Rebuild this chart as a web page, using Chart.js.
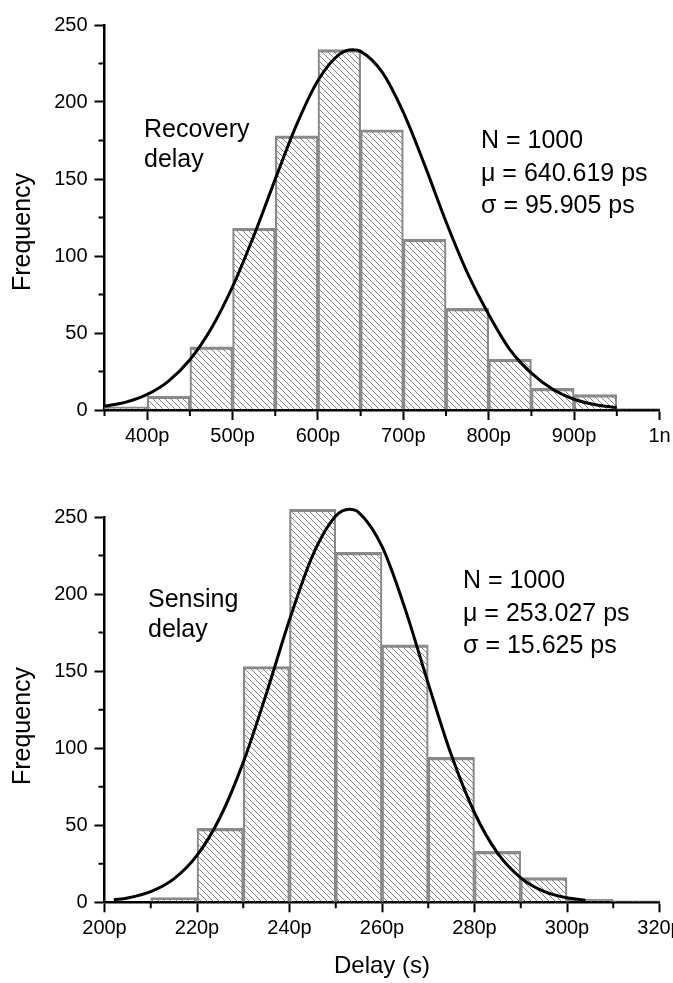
<!DOCTYPE html>
<html>
<head>
<meta charset="utf-8">
<script src="https://cdn.jsdelivr.net/npm/chart.js@4.4.0/dist/chart.umd.min.js"></script>
<style>
html,body{margin:0;padding:0;background:#fff;}
#wrap{position:relative;width:673px;height:983px;overflow:hidden;font-family:"Liberation Sans",Arial,Helvetica,sans-serif;color:#000;}
canvas{position:absolute;left:0;}
.t{position:absolute;font-size:25px;line-height:30px;white-space:nowrap;}
.yt{position:absolute;width:200px;height:30px;line-height:30px;text-align:center;font-size:25px;white-space:nowrap;transform:rotate(-90deg);}
</style>
</head>
<body>
<div id="wrap">
  <canvas id="c1" width="673" height="460" style="top:0px"></canvas>
  <canvas id="c2" width="673" height="523" style="top:460px"></canvas>
  <div class="yt" style="left:-79px;top:217px">Frequency</div>
  <div class="yt" style="left:-79px;top:711px">Frequency</div>
  <div class="t" style="left:144px;top:113px">Recovery<br>delay</div>
  <div class="t" style="left:481px;top:123px;line-height:32.5px">N = 1000<br>μ = 640.619 ps<br>σ = 95.905 ps</div>
  <div class="t" style="left:148px;top:583px">Sensing<br>delay</div>
  <div class="t" style="left:463px;top:563px;line-height:32.5px">N = 1000<br>μ = 253.027 ps<br>σ = 15.625 ps</div>
</div>
<script>
// ---------- Recovery delay (top) ----------
const recoveryBinCenters = [375, 425, 475, 525, 575, 625, 675, 725, 775, 825, 875, 925, 975]; // ps
const recoveryCounts     = [2, 9, 41, 118, 178, 234, 182, 111, 66, 33, 14, 10, 1];
const recoveryFitX = [350, 375, 400, 425, 450, 475, 500, 525, 550, 575, 600, 625, 640.6, 650, 675, 700, 725, 750, 775, 800, 825, 850, 875, 900, 925, 950];
const recoveryFitY = [2.4, 5.1, 10.1, 18.8, 32.6, 52.9, 80.1, 113.3, 149.9, 185.3, 214.0, 230.9, 234, 232.9, 219.5, 193.2, 159.0, 122.2, 89, 62, 39, 24, 13.5, 7, 3.4, 1.6];
const recoveryTickValues = [400, 500, 600, 700, 800, 900, 1000];
const recoveryTickLabels = ['400p', '500p', '600p', '700p', '800p', '900p', '1n'];

// ---------- Sensing delay (bottom) ----------
const sensingBinCenters = [205, 215, 225, 235, 245, 255, 265, 275, 285, 295, 305, 315]; // ps
const sensingCounts     = [0, 3, 48, 153, 255, 227, 167, 94, 33, 16, 2, 1];
const sensingFitX = [202, 205, 210, 215, 220, 225, 230, 235, 240, 245, 250, 253, 255, 260, 265, 270, 275, 280, 285, 290, 295, 300, 304];
const sensingFitY = [1.6, 2.8, 6.9, 15.2, 30.4, 55.2, 90.8, 135.4, 183.3, 225.0, 250.6, 255, 252.9, 230.9, 190.4, 141.9, 95.5, 58.1, 31.9, 15.9, 7.1, 2.9, 1.3];
const sensingTickValues = [200, 220, 240, 260, 280, 300, 320];
const sensingTickLabels = ['200p', '220p', '240p', '260p', '280p', '300p', '320p'];

// ---------- shared y ticks ----------
const freqTickValues = [0, 50, 100, 150, 200, 250];
const freqTickLabels = ['0', '50', '100', '150', '200', '250'];

Chart.defaults.font.family = '"Liberation Sans", Arial, Helvetica, sans-serif';
Chart.defaults.color = '#000';

function hatchPattern() {
  const s = 6;
  const c = document.createElement('canvas');
  c.width = s; c.height = s;
  const g = c.getContext('2d');
  g.strokeStyle = '#6e6e6e';
  g.lineWidth = 0.85;
  g.beginPath();
  for (let k = -1; k <= 1; k++) { g.moveTo(k * s, 0); g.lineTo(k * s + s, s); }
  g.stroke();
  return g.createPattern(c, 'repeat');
}

const minorTickPlugin = {
  id: 'minorTicks',
  afterDraw(chart, args, o) {
    const ctx = chart.ctx, x = chart.scales.x, y = chart.scales.y;
    ctx.save();
    ctx.strokeStyle = '#000';
    ctx.lineWidth = 2;
    ctx.beginPath();
    x.ticks.forEach(t => {
      if (!o.xMajor.includes(t.value)) {
        const p = x.getPixelForValue(t.value);
        ctx.moveTo(p, x.top); ctx.lineTo(p, x.top + o.len);
      }
    });
    y.ticks.forEach(t => {
      if (!o.yMajor.includes(t.value)) {
        const p = y.getPixelForValue(t.value);
        ctx.moveTo(y.right, p); ctx.lineTo(y.right - o.len, p);
      }
    });
    ctx.stroke();
    ctx.restore();
  }
};

function makeChart(id, o) {
  const bars = o.centers.map((x, i) => ({x: x, y: o.counts[i]}));
  const fit = o.fitX.map((x, i) => ({x: x, y: o.fitY[i]}));
  return new Chart(document.getElementById(id), {
    type: 'bar',
    data: {
      datasets: [
        {
          type: 'line', data: fit, borderColor: '#000', borderWidth: 3,
          pointRadius: 0, cubicInterpolationMode: 'monotone', fill: false, order: 1, clip: false
        },
        {
          type: 'bar', data: bars, backgroundColor: hatchPattern(), borderColor: '#8a8a8a',
          borderWidth: {top: 2.5, left: 1.5, right: 1.5, bottom: 0}, borderSkipped: false,
          barPercentage: 1, categoryPercentage: 1, order: 2, clip: false
        }
      ]
    },
    options: {
      responsive: false,
      devicePixelRatio: 1,
      animation: false,
      events: [],
      layout: {padding: {left: 0, top: o.padTop, right: 13.5, bottom: 0}},
      plugins: {
        legend: {display: false},
        tooltip: {enabled: false},
        minorTicks: {xMajor: o.tickValues, yMajor: freqTickValues, len: 6}
      },
      scales: {
        x: {
          type: 'linear', min: o.xMin, max: o.xMax, offset: false,
          grid: {display: true, drawOnChartArea: false, drawTicks: true, tickLength: 10, tickWidth: 2, offset: false,
                 tickColor: c => o.tickValues.includes(c.tick.value) ? '#000' : 'rgba(0,0,0,0)'},
          border: {display: true, color: '#000', width: 2.5},
          ticks: {
            stepSize: o.xStep, autoSkip: false, maxRotation: 0, minRotation: 0, padding: 4,
            color: '#000', font: {size: 20},
            callback: v => { const i = o.tickValues.indexOf(v); return i >= 0 ? o.tickLabels[i] : ''; }
          },
          title: o.xTitle ? {display: true, text: o.xTitle, color: '#000', font: {size: 24}, padding: {top: 0, bottom: 2}} : {display: false},
          afterFit: s => { s.height = o.xHeight; s.paddingLeft = 0; s.paddingRight = 0; }
        },
        y: {
          type: 'linear', min: 0, max: 250,
          grid: {display: true, drawOnChartArea: false, drawTicks: true, tickLength: 10, tickWidth: 2,
                 tickColor: c => freqTickValues.includes(c.tick.value) ? '#000' : 'rgba(0,0,0,0)'},
          border: {display: true, color: '#000', width: 2.5},
          ticks: {
            stepSize: 25, autoSkip: false, padding: 7, color: '#000', font: {size: 20},
            callback: v => { const i = freqTickValues.indexOf(v); return i >= 0 ? freqTickLabels[i] : ''; }
          },
          afterFit: s => { s.width = 104.5; s.paddingTop = 0; s.paddingBottom = 0; }
        }
      }
    },
    plugins: [minorTickPlugin]
  });
}

makeChart('c1', {
  centers: recoveryBinCenters, counts: recoveryCounts, fitX: recoveryFitX, fitY: recoveryFitY,
  tickValues: recoveryTickValues, tickLabels: recoveryTickLabels,
  xMin: 350, xMax: 1000, xStep: 50, padTop: 25, xHeight: 50, xTitle: null
});
makeChart('c2', {
  centers: sensingBinCenters, counts: sensingCounts, fitX: sensingFitX, fitY: sensingFitY,
  tickValues: sensingTickValues, tickLabels: sensingTickLabels,
  xMin: 200, xMax: 320, xStep: 10, padTop: 57, xHeight: 80.7, xTitle: 'Delay (s)'
});
</script>
</body>
</html>
